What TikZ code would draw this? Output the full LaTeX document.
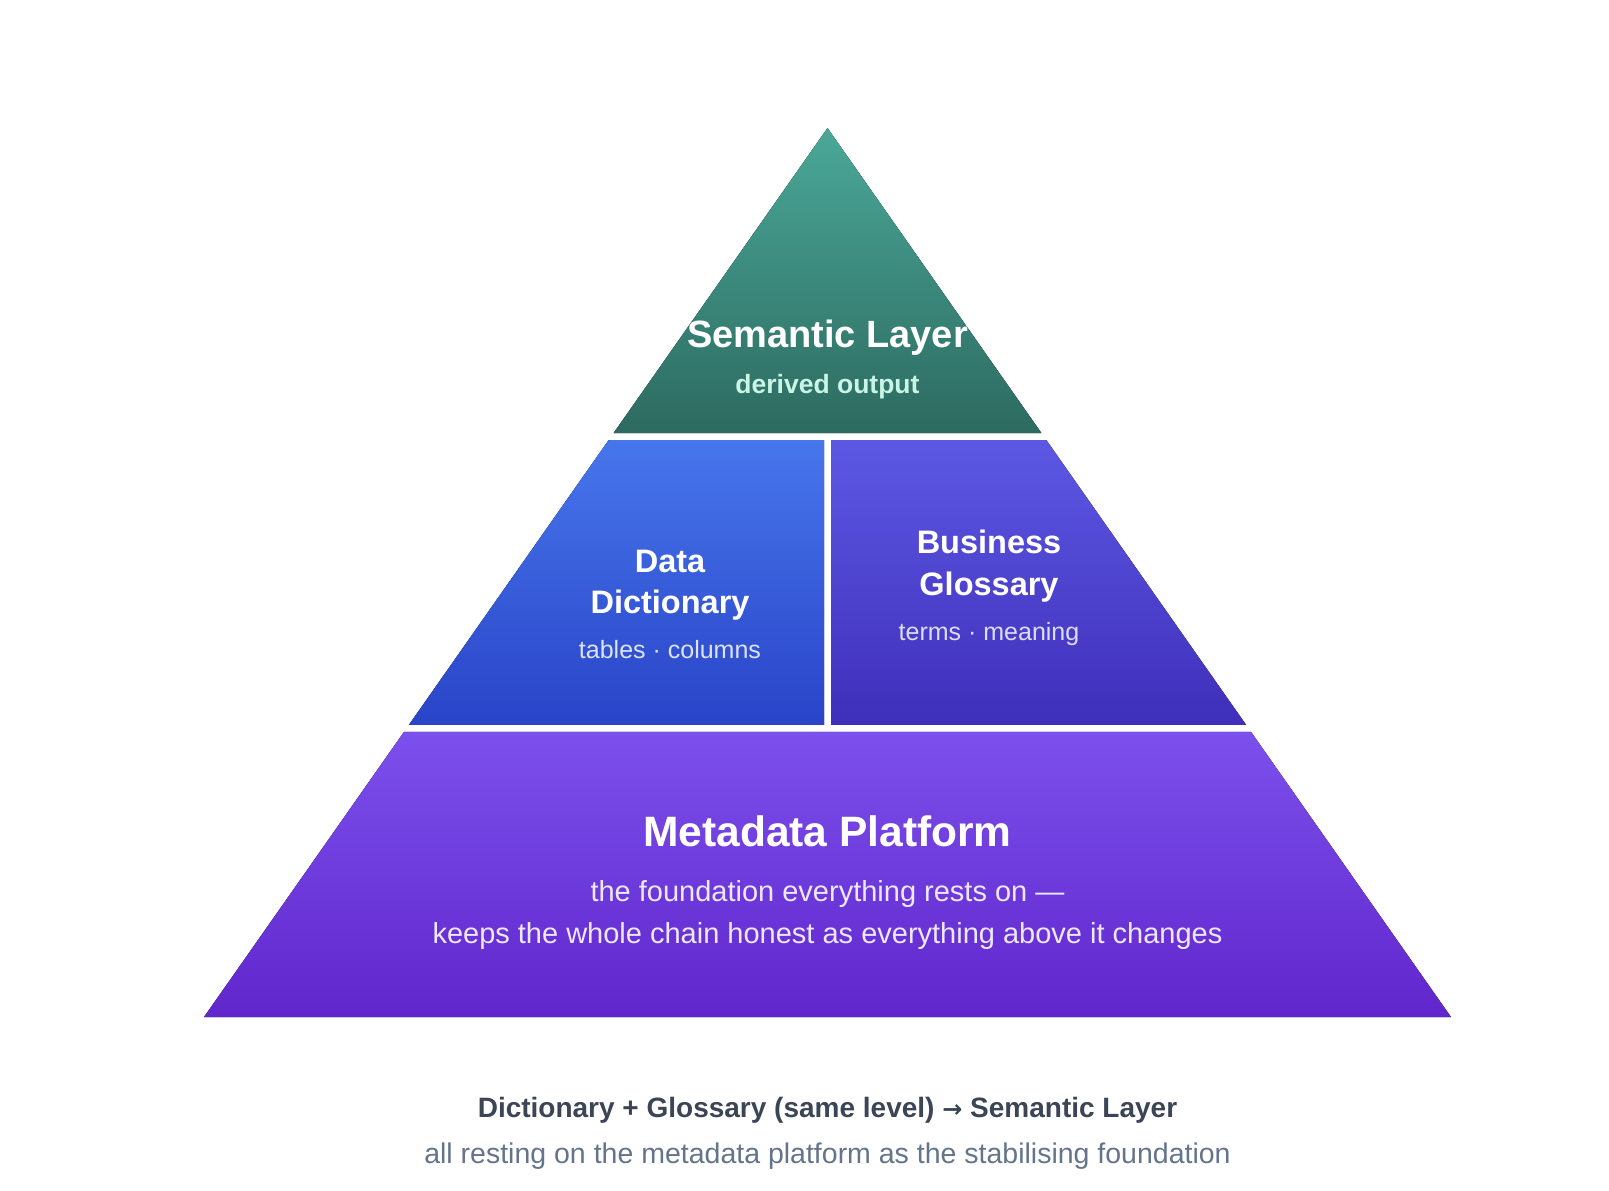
\documentclass[tikz,border=0pt]{standalone}
\usepackage{fontspec}
\setmainfont{Liberation Sans}
\newfontfamily\arrowfont{DejaVu Sans}
\usetikzlibrary{calc,positioning}
\definecolor{semtop}{HTML}{4AA898}
\definecolor{sembot}{HTML}{2D6A60}
\definecolor{dicttop}{HTML}{4776EC}
\definecolor{dictbot}{HTML}{2944C8}
\definecolor{glosstop}{HTML}{5C58E4}
\definecolor{glossbot}{HTML}{3F2FBA}
\definecolor{metatop}{HTML}{7C50EC}
\definecolor{metabot}{HTML}{6026CC}
\definecolor{mint}{HTML}{C9F5E6}
\definecolor{paleblue}{HTML}{DBE4FF}
\definecolor{lavender}{HTML}{DEDCFF}
\definecolor{palepurple}{HTML}{EDE7FF}
\definecolor{slate}{HTML}{3B4556}
\definecolor{greyslate}{HTML}{64748B}
\tikzstyle{tiertitle}=[
  anchor=base,
  font={\bfseries\fontsize{32.5}{36}\selectfont},
  inner sep=0pt,
  text=white,
]
\tikzstyle{tiersub}=[
  anchor=base,
  font={\fontsize{25}{28}\selectfont},
  inner sep=0pt,
]
\tikzstyle{caption}=[
  anchor=base,
  inner sep=0pt,
]
\tikzset{
  x=1pt,
  y=-1pt,
}

\begin{document}
\begin{tikzpicture}
      \useasboundingbox (0,0) rectangle (1609,1191);
      \coordinate (apex) at (827.5,128);
      \coordinate (bl) at (204,1017);
      \coordinate (br) at (1451,1017);
      %%
      \coordinate (l1) at ($(apex)!0.3431!(bl)$);
      \coordinate (r1) at ($(apex)!0.3431!(br)$);
      \coordinate (l2) at ($(apex)!0.3510!(bl)$);
      \coordinate (r2) at ($(apex)!0.3510!(br)$);
      \coordinate (l3) at ($(apex)!0.6715!(bl)$);
      \coordinate (r3) at ($(apex)!0.6715!(br)$);
      \coordinate (l4) at ($(apex)!0.6794!(bl)$);
      \coordinate (r4) at ($(apex)!0.6794!(br)$);
      \coordinate (m2) at ($(l2)!.5!(r2)$);
      \coordinate (m3) at ($(l3)!.5!(r3)$);
      %%
      \fill [top color=semtop, bottom color=sembot] (apex) -- (r1) -- (l1) -- cycle;
      \fill [top color=dicttop, bottom color=dictbot] (l2) -- ($(m2)-(3.5,0)$)
      -- ($(m3)-(3.5,0)$) -- (l3) -- cycle;
      \fill [top color=glosstop, bottom color=glossbot] ($(m2)+(3.5,0)$) -- (r2)
      -- (r3) -- ($(m3)+(3.5,0)$) -- cycle;
      \fill [top color=metatop, bottom color=metabot] (l4) -- (r4) -- (br) -- (bl) -- cycle;
      %%
      \node (semtitle) [tiertitle, font={\bfseries\fontsize{38}{42}\selectfont}] at (827.5,347) {Semantic Layer};
      \node (semsub) [tiersub, text=mint, font={\bfseries\fontsize{26.5}{30}\selectfont}] at (827.5,393) {derived output};
      %%
      \node (dicta) [tiertitle] at (670,572) {Data};
      \node (dictb) [tiertitle] at (670,613) {Dictionary};
      \node (dictsub) [tiersub, text=paleblue] at (670,658) {tables · columns};
      %%
      \node (glossa) [tiertitle] at (989,553) {Business};
      \node (glossb) [tiertitle] at (989,595) {Glossary};
      \node (glosssub) [tiersub, text=lavender] at (989,640) {terms · meaning};
      %%
      \node (metatitle) [tiertitle, font={\bfseries\fontsize{42.5}{46}\selectfont}] at (827.5,846) {Metadata Platform};
      \node (metasuba) [tiersub, text=palepurple, font={\fontsize{29}{32}\selectfont}] at (827.5,901) {the foundation everything rests on —};
      \node (metasubb) [tiersub, text=palepurple, font={\fontsize{29}{32}\selectfont}] at (827.5,943) {keeps the whole chain honest as everything above it changes};
      %%
      \node (capa) [caption, text=slate, font={\bfseries\fontsize{28}{32}\selectfont}] at (827.5,1117) {Dictionary + Glossary (same level) {\arrowfont\fontsize{24}{28}\selectfont →} Semantic Layer};
      \node (capb) [caption, text=greyslate, font={\fontsize{28.5}{32}\selectfont}] at (827.5,1163) {all resting on the metadata platform as the stabilising foundation};
    \end{tikzpicture}
\end{document}
